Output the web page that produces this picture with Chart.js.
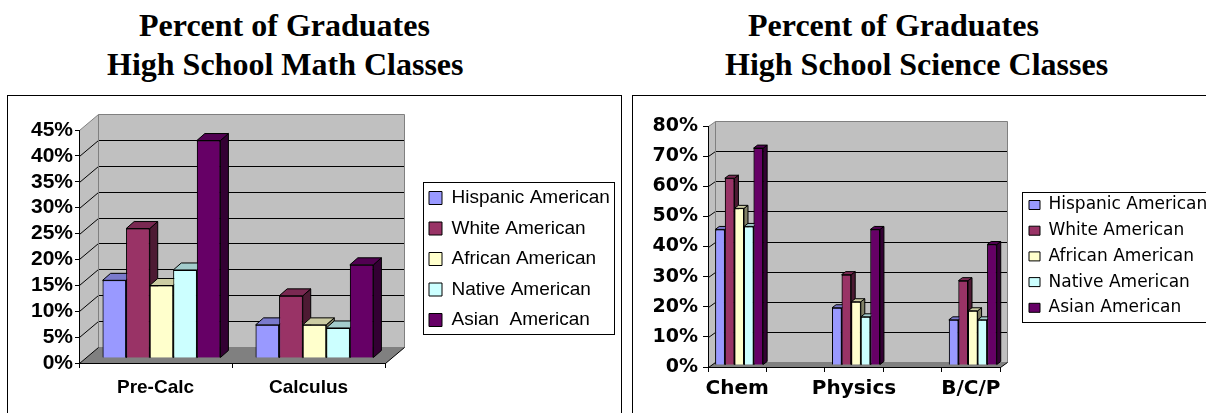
<!DOCTYPE html>
<html>
<head>
<meta charset="utf-8">
<script src="https://cdn.jsdelivr.net/npm/chart.js@4.4.1/dist/chart.umd.min.js"></script>
<style>
  html, body { margin: 0; padding: 0; background: #fff; }
  body { position: relative; width: 1206px; height: 413px; overflow: hidden; }
  .title { position: absolute; font-family: 'Liberation Serif', 'Times New Roman', serif; font-weight: bold;
           font-size: 32px; line-height: 39px; white-space: nowrap; color: #000; }
  .frame { position: absolute; border: 1px solid #000; box-sizing: border-box; }
  canvas { position: absolute; }
</style>
</head>
<body>
<div class="title" style="left:139px;top:6px">Percent of Graduates</div>
<div class="title" style="left:107px;top:45px">High School Math Classes</div>
<div class="title" style="left:748px;top:6px">Percent of Graduates</div>
<div class="title" style="left:725px;top:45px">High School Science Classes</div>

<div class="frame" style="left:7px;top:95px;width:615px;height:330px"></div>
<div class="frame" style="left:632px;top:95px;width:600px;height:330px"></div>

<canvas id="mathChart" width="612" height="317" style="left:8px;top:96px"></canvas>
<canvas id="scienceChart" width="573" height="317" style="left:633px;top:96px"></canvas>

<script>
// ---- data ----
const groupColors = ['#9999ff', '#993366', '#ffffcc', '#ccffff', '#660066'];

const mathGroups = ['Hispanic American', 'White American', 'African American', 'Native American', 'Asian  American'];
const mathCategories = ['Pre-Calc', 'Calculus'];
const mathHispanic = [15, 6.4];
const mathWhite    = [25, 12];
const mathAfrican  = [14, 6.4];
const mathNative   = [17, 5.8];
const mathAsian    = [42, 18];
const mathMax = 45, mathStep = 5;

const scienceGroups = ['Hispanic American', 'White American', 'African American', 'Native American', 'Asian American'];
const scienceCategories = ['Chem', '', 'Physics', '', 'B/C/P'];
const sciHispanic = [45, null, 19, null, 15];
const sciWhite    = [62, null, 30, null, 28];
const sciAfrican  = [52, null, 21, null, 18];
const sciNative   = [46, null, 16, null, 15];
const sciAsian    = [72, null, 45, null, 40];
const sciMax = 80, sciStep = 10;

// ---- helpers ----
function shade(hex, f) {
  const n = parseInt(hex.slice(1), 16);
  const r = Math.round(((n >> 16) & 255) * f);
  const g = Math.round(((n >> 8) & 255) * f);
  const b = Math.round((n & 255) * f);
  return 'rgb(' + r + ',' + g + ',' + b + ')';
}

function poly(ctx, pts) {
  ctx.beginPath();
  pts.forEach((p, i) => (i ? ctx.lineTo(p[0], p[1]) : ctx.moveTo(p[0], p[1])));
  ctx.closePath();
}

function makeSets(names, series) {
  return names.map((name, i) => ({
    label: name,
    data: series[i],
    backgroundColor: groupColors[i],
    borderColor: '#000',
    borderWidth: 1
  }));
}

// Draws the walls/floor of the 3-D box behind the plot, shifts the columns
// into the box and gives every column a shaded side and top face.
const box3d = {
  id: 'box3d',
  beforeDraw(chart, args, o) {
    const { ctx, chartArea: a } = chart;
    const yScale = chart.scales.y;
    const L = Math.round(a.left) + 0.5, R = Math.round(a.right) + 0.5;
    const T = Math.round(a.top) + 0.5, B = Math.round(a.bottom) + 0.5;
    const [dx, dy] = o.wall;
    ctx.save();
    ctx.lineWidth = 1;
    ctx.fillStyle = o.wallColor;
    poly(ctx, [[L, B], [L, T], [L + dx, T + dy], [L + dx, B + dy]]);
    ctx.fill();
    ctx.fillRect(L + dx, T + dy, R - L, B - T);
    ctx.fillStyle = o.floorColor;
    poly(ctx, [[L, B], [R, B], [R + dx, B + dy], [L + dx, B + dy]]);
    ctx.fill();

    ctx.strokeStyle = o.gridColor;
    yScale.ticks.forEach(t => {
      if (t.value <= yScale.min || t.value >= yScale.max) return;
      const py = Math.round(yScale.getPixelForValue(t.value)) + 0.5;
      ctx.beginPath();
      ctx.moveTo(L, py);
      ctx.lineTo(L + dx, py + dy);
      ctx.lineTo(R + dx, py + dy);
      ctx.stroke();
    });

    ctx.strokeStyle = o.edgeColor;
    ctx.beginPath();
    ctx.moveTo(L, T); ctx.lineTo(L + dx, T + dy); ctx.lineTo(R + dx, T + dy); ctx.lineTo(R + dx, B + dy);
    ctx.moveTo(L + dx, T + dy); ctx.lineTo(L + dx, B + dy); ctx.lineTo(R + dx, B + dy);
    ctx.stroke();
    ctx.strokeStyle = '#000';
    ctx.beginPath();
    ctx.moveTo(L, B); ctx.lineTo(L + dx, B + dy);
    ctx.moveTo(R, B); ctx.lineTo(R + dx, B + dy);
    ctx.stroke();
    ctx.restore();
  },
  beforeDatasetsDraw(chart, args, o) {
    chart.ctx.save();
    chart.ctx.translate(o.shift[0], o.shift[1]);
  },
  afterDatasetsDraw(chart, args, o) {
    const ctx = chart.ctx;
    const [dx, dy] = o.depth;
    const bars = [];
    chart.data.datasets.forEach((ds, i) => {
      chart.getDatasetMeta(i).data.forEach((el, j) => {
        if (ds.data[j] !== null && ds.data[j] !== undefined) bars.push({ el, color: ds.backgroundColor });
      });
    });
    bars.sort((p, q) => p.el.x - q.el.x);
    bars.forEach(({ el, color }) => {
      el.draw(ctx);
      const l = el.x - el.width / 2, r = el.x + el.width / 2, t = el.y, b = el.base;
      ctx.save();
      ctx.lineWidth = 1;
      ctx.strokeStyle = '#000';
      ctx.fillStyle = shade(color, 0.5);
      poly(ctx, [[r, t], [r + dx, t + dy], [r + dx, b + dy], [r, b]]);
      ctx.fill(); ctx.stroke();
      ctx.fillStyle = shade(color, 0.8);
      poly(ctx, [[l, t], [l + dx, t + dy], [r + dx, t + dy], [r, t]]);
      ctx.fill(); ctx.stroke();
      ctx.restore();
    });
    ctx.restore();
  }
};

// Places the legend block and draws its frame.
const legendFrame = {
  id: 'legendFrame',
  afterLayout(chart, args, o) {
    const lg = chart.legend;
    lg.left = o.at[0];
    lg.top = o.at[1];
    lg.right = chart.width;
    lg.bottom = chart.height;
    lg.width = lg.right - lg.left;
    lg.height = lg.bottom - lg.top;
  },
  afterDraw(chart, args, o) {
    const ctx = chart.ctx;
    const [x, y, w, h] = o.frame;
    ctx.save();
    ctx.strokeStyle = '#000';
    ctx.lineWidth = 1;
    ctx.strokeRect(x + 0.5, y + 0.5, w, h);
    ctx.restore();
  }
};

function buildChart(id, cfg) {
  const tickFont = { family: cfg.family, size: cfg.xFont, weight: 'bold' };
  return new Chart(document.getElementById(id), {
    type: 'bar',
    data: { labels: cfg.labels, datasets: makeSets(cfg.groups, cfg.series) },
    options: {
      responsive: false,
      animation: false,
      devicePixelRatio: 1,
      events: [],
      layout: { padding: { left: 0, top: cfg.area.top, right: cfg.area.right, bottom: 0 } },
      datasets: { bar: { categoryPercentage: cfg.catPct, barPercentage: 1, clip: false } },
      scales: {
        x: {
          grid: { display: true, drawOnChartArea: false, drawTicks: true, tickLength: 5, color: '#000', offset: true },
          border: { display: true, color: '#000', width: 1 },
          ticks: { font: tickFont, color: '#000', padding: cfg.xPad, autoSkip: false, maxRotation: 0 },
          afterFit: s => { s.height = cfg.area.xHeight; }
        },
        y: {
          min: 0,
          max: cfg.max,
          grid: { display: true, drawOnChartArea: false, drawTicks: true, tickLength: cfg.yTick, color: '#000' },
          border: { display: true, color: '#000', width: 1 },
          ticks: {
            stepSize: cfg.step,
            autoSkip: false,
            callback: v => v + '%',
            font: { family: cfg.family, size: cfg.yFont, weight: 'bold', lineHeight: 1 },
            color: '#000',
            padding: cfg.yPad
          },
          afterFit: s => { s.width = cfg.area.yWidth; }
        }
      },
      plugins: {
        tooltip: { enabled: false },
        legend: {
          position: 'right',
          align: 'start',
          maxWidth: 10,
          labels: {
            boxWidth: cfg.legend.box[0],
            boxHeight: cfg.legend.box[1],
            padding: cfg.legend.pad,
            color: '#000',
            font: { family: cfg.family, size: cfg.legend.font }
          }
        },
        legendFrame: { at: cfg.legend.at, frame: cfg.legend.frame },
        box3d: {
          wall: cfg.wall, shift: cfg.shift, depth: cfg.depth,
          wallColor: '#c0c0c0', floorColor: '#808080', gridColor: '#000', edgeColor: '#808080'
        }
      }
    },
    plugins: [box3d, legendFrame]
  });
}

buildChart('mathChart', {
  labels: mathCategories,
  groups: mathGroups,
  series: [mathHispanic, mathWhite, mathAfrican, mathNative, mathAsian],
  max: mathMax, step: mathStep,
  family: "'Liberation Sans', Arial, sans-serif",
  xFont: 19, yFont: 21, xPad: 8, yPad: 2, yTick: 4,
  area: { top: 34, right: 225, xHeight: 50, yWidth: 71 },
  catPct: 0.77,
  wall: [19, -16], shift: [6, -5], depth: [8, -7],
  legend: { box: [13, 13], pad: 11.5, font: 19, at: [409.5, 81], frame: [415, 86, 191, 152] }
});

buildChart('scienceChart', {
  labels: scienceCategories,
  groups: scienceGroups,
  series: [sciHispanic, sciWhite, sciAfrican, sciNative, sciAsian],
  max: sciMax, step: sciStep,
  family: "'DejaVu Sans', sans-serif",
  xFont: 20, yFont: 19, xPad: 5, yPad: 5, yTick: 5,
  area: { top: 30, right: 196, xHeight: 46, yWidth: 75 },
  catPct: 0.82,
  wall: [7, -5], shift: [2, -2], depth: [4, -3],
  legend: { box: [11, 9], pad: 8.7, font: 17, at: [387.3, 91.8], frame: [389, 96, 200, 130] }
});
</script>
</body>
</html>
